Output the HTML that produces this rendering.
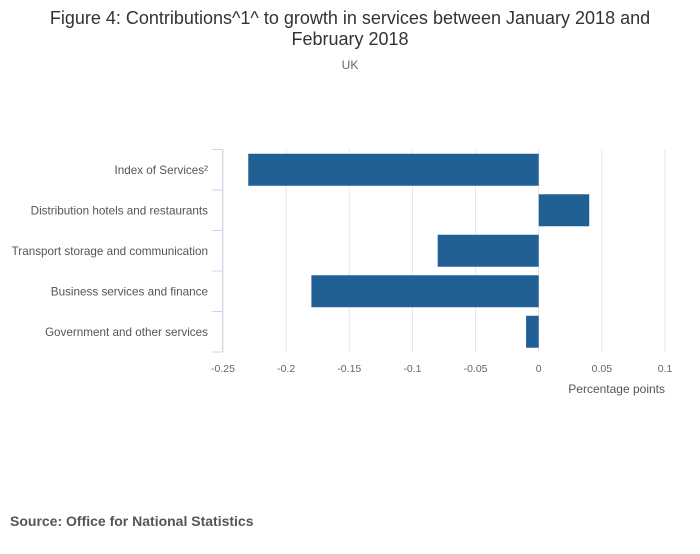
<!DOCTYPE html>
<html><head><meta charset="utf-8"><style>
body{margin:0;background:#fff;width:700px;height:549px;overflow:hidden;font-family:"Liberation Sans",sans-serif}
</style></head><body>
<svg width="700" height="549" xmlns="http://www.w3.org/2000/svg">
<text x="350" y="24" text-anchor="middle" font-size="18" fill="#333">Figure 4: Contributions^1^ to growth in services between January 2018 and</text>
<text x="350" y="45" text-anchor="middle" font-size="18" fill="#333">February 2018</text>
<text x="350" y="69" text-anchor="middle" font-size="12" fill="#666">UK</text>
<g id="grid"></g><g id="bars"></g><g id="yaxis"></g><g id="xlabels"></g>
<text x="665" y="393" text-anchor="end" font-size="12" fill="#555">Percentage points</text>
<text x="10" y="526" font-size="14" font-weight="bold" fill="#555">Source: Office for National Statistics</text>
</svg>
<script>
const categories=["Index of Services²","Distribution hotels and restaurants","Transport storage and communication","Business services and finance","Government and other services"];
const values=[-0.23,0.04,-0.08,-0.18,-0.01];
const ticks=[-0.25,-0.2,-0.15,-0.1,-0.05,0,0.05,0.1];
const tickLabels=["-0.25","-0.2","-0.15","-0.1","-0.05","0","0.05","0.1"];
const NS="http://www.w3.org/2000/svg";
const x0=223,x1=665,plotTop=149.5,plotBot=352;
const xs=v=>x0+(v-(-0.25))/(0.35)*(x1-x0);
const band=(plotBot-plotTop)/categories.length;
function mk(t,a,p){const e=document.createElementNS(NS,t);for(const k in a)e.setAttribute(k,a[k]);p.appendChild(e);return e;}
const g=document.getElementById('grid'),b=document.getElementById('bars'),ya=document.getElementById('yaxis'),xl=document.getElementById('xlabels');
ticks.forEach((t,i)=>{
 const l=mk('line',{x1:xs(t),x2:xs(t),y1:plotTop,y2:plotBot,stroke:'#e6e6e6','stroke-width':1},g);
 
 
 const tx=mk('text',{x:xs(t),y:372,'text-anchor':'middle','font-size':10.5,fill:'#666'},xl);
 tx.textContent=tickLabels[i];
 
 
});
categories.forEach((c,i)=>{
 const v=values[i],yc=plotTop+band*(i+0.5);
 const r=mk('rect',{x:Math.min(xs(0),xs(v)),y:yc-16,width:Math.abs(xs(v)-xs(0)),height:32,fill:'#206095'},b);
 
 
 const t=mk('text',{x:208,y:yc+4,'text-anchor':'end','font-size':11.7,fill:'#555'},ya);
 t.textContent=c;
 
 
});
const al=mk('line',{x1:222.5,x2:222.5,y1:plotTop,y2:plotBot,stroke:'#ccd6eb','stroke-width':1},ya);


for(let i=0;i<=categories.length;i++){
 const y=plotTop+band*i;
 const tk=mk('line',{x1:212,x2:222.5,y1:y,y2:y,stroke:'#ccd6eb','stroke-width':1},ya);
 
 
}
</script>
</body></html>
